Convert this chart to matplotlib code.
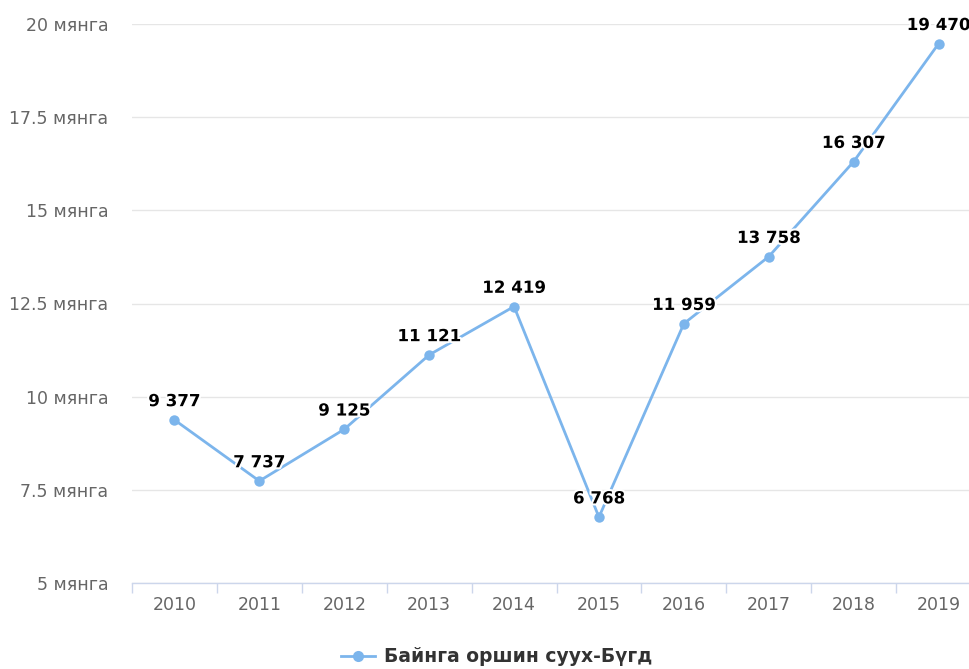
### PACKAGES ###
import matplotlib
matplotlib.use('Agg')
import matplotlib.pyplot as plt
import matplotlib.patheffects as pe
from matplotlib.lines import Line2D
from matplotlib.ticker import FixedLocator, FuncFormatter

### DATA ###
years = ['2010', '2011', '2012', '2013', '2014', '2015', '2016', '2017', '2018', '2019']
values = [9377, 7737, 9125, 11121, 12419, 6768, 11959, 13758, 16307, 19470]
y_ticks = [5000, 7500, 10000, 12500, 15000, 17500, 20000]
series_name = 'Байнга оршин суух-Бүгд'

### HELPERS ###
def y_label(v, pos):
    s = ('%g' % (v / 1000))
    return s + ' мянга'

def thousands(v):
    return '{:,}'.format(v).replace(',', ' ')

### PLOT ###
plt.rcParams['font.family'] = ['DejaVu Sans']
fig = plt.figure(figsize=(9.69, 6.69), dpi=100)
# plot area runs past the right edge, as in the cropped original
ax = fig.add_axes([132 / 969, 86 / 669, 849 / 969, 559 / 669])

x = list(range(len(years)))
ax.plot(x, values, color='#7cb5ec', lw=2, marker='o', markersize=7.5,
        markeredgewidth=0, zorder=3, clip_on=False)

for xi, v in zip(x, values):
    ax.annotate(thousands(v), (xi, v), xytext=(0, 7), textcoords='offset points',
                ha='center', va='bottom', fontsize=12, fontweight='bold', color='#000000',
                path_effects=[pe.withStroke(linewidth=3, foreground='white')],
                annotation_clip=False, zorder=4)

ax.set_xlim(-0.5, len(years) - 0.5)
ax.set_ylim(5000, 20000)

ax.yaxis.set_major_locator(FixedLocator(y_ticks))
ax.yaxis.set_major_formatter(FuncFormatter(y_label))
ax.grid(axis='y', color='#e6e6e6', lw=1)
ax.set_axisbelow(True)
ax.tick_params(axis='y', length=0, pad=17, labelsize=12.5, labelcolor='#666666')

ax.set_xticks(x)
ax.set_xticklabels(years)
ax.set_xticks([i - 0.5 for i in range(len(years) + 1)], minor=True)
ax.tick_params(axis='x', which='major', length=0, pad=9, labelsize=12.5, labelcolor='#666666')
ax.tick_params(axis='x', which='minor', length=7, width=1, color='#ccd6eb')

for side in ['top', 'right', 'left']:
    ax.spines[side].set_visible(False)
ax.spines['bottom'].set_color('#ccd6eb')
ax.spines['bottom'].set_linewidth(1)

handle = Line2D([], [], color='#7cb5ec', lw=2, marker='o', markersize=8, markeredgewidth=0)
leg = fig.legend([handle], [series_name], loc='center', bbox_to_anchor=(497 / 969, 1 - 657 / 669),
                 frameon=False, handlelength=1.8, handletextpad=0.5,
                 prop={'size': 13.5, 'weight': 'bold'})
for t in leg.get_texts():
    t.set_color('#333333')

fig.savefig('out.png', dpi=100)
